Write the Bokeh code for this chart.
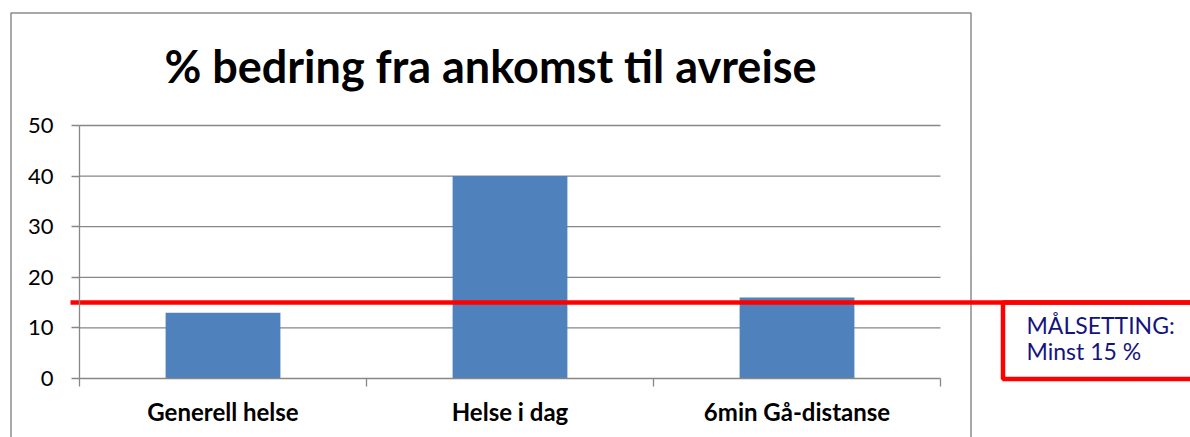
from bokeh.plotting import figure
from bokeh.models import Range1d, FixedTicker, BoxAnnotation, Label, LinearAxis
from bokeh.embed import file_html
from bokeh.resources import INLINE
import numpy as np

categories = ["Generell helse", "Helse i dag", "6min Gå-distanse"]
values = [13, 40, 16]
target = 15
y_ticks = [0, 10, 20, 30, 40, 50]
title_text = "% bedring fra ankomst til avreise"
note_lines = ["MÅLSETTING:", "Minst 15 %"]

FONT = "Lato"
GRID = "#878787"

# layout (page pixels)
W, H = 1190, 437
X0_PX, UNIT_X = 79, 287.0          # left of plot area, px per category
Y0_PX, UNIT_Y = 378, 253.0 / 50    # y=0 line, px per unit


def px(xp):
    return (xp - X0_PX) / UNIT_X


def py(yp):
    return (Y0_PX - yp) / UNIT_Y


n = len(categories)
x_pos = np.arange(n) + 0.5

p = figure(width=W, height=H, output_backend="svg", toolbar_location=None,
           x_range=Range1d(px(0), px(W)), y_range=Range1d(py(H), py(0)),
           x_axis_type=None, y_axis_type=None,
           min_border=0, min_border_left=0, min_border_right=0,
           min_border_top=0, min_border_bottom=0)
p.outline_line_color = None
p.background_fill_color = "white"
p.border_fill_color = "white"
p.xgrid.visible = False
p.ygrid.visible = False

# chart border
p.add_layout(BoxAnnotation(left=px(10.5), right=px(970.5), top=py(12.5), bottom=py(460),
                           fill_color=None, fill_alpha=0, line_color="#8c8c8c",
                           line_alpha=1, line_width=1.5, level="underlay"))

# gridlines
p.segment(x0=0, x1=n, y0=y_ticks[1:], y1=y_ticks[1:], line_color=GRID, line_width=1.3)

# bars
p.vbar(x=x_pos, top=values, width=0.4, fill_color="#4F81BD", line_color=None)

# y axis
yaxis = LinearAxis(fixed_location=0, bounds=(0, 50), ticker=FixedTicker(ticks=y_ticks))
yaxis.axis_line_color = GRID
yaxis.axis_line_width = 1.3
yaxis.major_tick_line_color = GRID
yaxis.major_tick_line_width = 1.3
yaxis.major_tick_out = 8
yaxis.major_tick_in = 0
yaxis.minor_tick_line_color = None
yaxis.major_label_standoff = 18
yaxis.major_label_text_font = FONT
yaxis.major_label_text_font_size = "22px"
yaxis.major_label_text_color = "black"
p.add_layout(yaxis, "left")

# x axis
xaxis = LinearAxis(fixed_location=0, bounds=(0, n),
                   ticker=FixedTicker(ticks=list(x_pos), minor_ticks=list(range(n + 1))))
xaxis.major_label_overrides = {float(x): c for x, c in zip(x_pos, categories)}
xaxis.axis_line_color = GRID
xaxis.axis_line_width = 1.3
xaxis.major_tick_line_color = None
xaxis.major_tick_out = 0
xaxis.major_tick_in = 0
xaxis.minor_tick_line_color = GRID
xaxis.minor_tick_line_width = 1.3
xaxis.minor_tick_out = 8
xaxis.minor_tick_in = 0
xaxis.major_label_standoff = 10
xaxis.major_label_text_font = FONT
xaxis.major_label_text_font_style = "bold"
xaxis.major_label_text_font_size = "24px"
xaxis.major_label_text_color = "black"
p.add_layout(xaxis, "below")

# target line
p.segment(x0=px(70), x1=px(W + 10), y0=target, y1=target, line_color="red", line_width=4.5)
# target box
p.add_layout(BoxAnnotation(left=px(1002.5), right=px(W + 20), top=target, bottom=py(378.5),
                           fill_color=None, fill_alpha=0, line_color="red",
                           line_alpha=1, line_width=4.5))

p.add_layout(Label(x=px(490), y=py(65), text=title_text,
                   text_align="center", text_baseline="alphabetic",
                   text_font=FONT, text_font_style="bold", text_font_size="45px",
                   text_color="black"))

for i, line in enumerate(note_lines):
    p.add_layout(Label(x=px(1026), y=py(324 + 26 * i),
                       text=line, text_align="left", text_baseline="alphabetic",
                       text_font=FONT, text_font_size="23px", text_color="#14147f"))

open("out.html", "w").write(file_html(p, INLINE))
